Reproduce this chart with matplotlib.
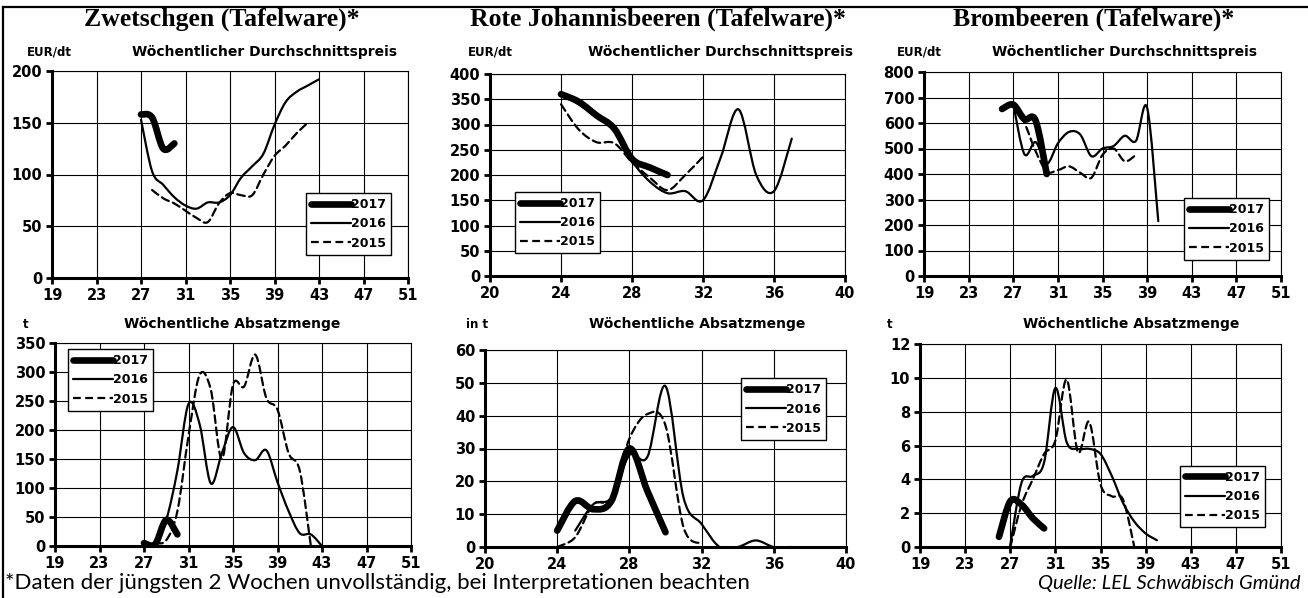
import matplotlib
matplotlib.use("Agg")
import matplotlib.pyplot as plt
from matplotlib.path import Path
from matplotlib.patches import PathPatch
from matplotlib.lines import Line2D

# ---- data (calendar weeks / values) ----
years = ["2017", "2016", "2015"]

# Zwetschgen price EUR/dt
zw_price_w17 = [27, 28, 29, 30]
zw_price_17 = [158, 155, 125, 130]
zw_price_w16 = list(range(27, 44))
zw_price_16 = [153, 103, 90, 78, 70, 67, 73, 73, 80, 97, 108, 120, 148, 170, 180, 186, 192]
zw_price_w15 = list(range(28, 43))
zw_price_15 = [85, 77, 72, 65, 58, 54, 72, 82, 80, 80, 100, 118, 128, 140, 150]

# Rote Johannisbeeren price EUR/dt
jo_price_w17 = list(range(24, 31))
jo_price_17 = [360, 345, 318, 292, 232, 215, 200]
jo_price_w16 = list(range(24, 38))
jo_price_16 = [360, 340, 315, 290, 228, 187, 164, 168, 150, 235, 330, 200, 168, 272]
jo_price_w15 = list(range(24, 33))
jo_price_15 = [340, 290, 265, 263, 225, 195, 170, 200, 236]

# Brombeeren price EUR/dt
br_price_w17 = [26, 27, 28, 29, 30]
br_price_17 = [655, 672, 615, 610, 400]
br_price_w16 = list(range(27, 41))
br_price_16 = [675, 478, 525, 440, 520, 565, 555, 470, 500, 510, 550, 530, 660, 215]
br_price_w15 = list(range(27, 39))
br_price_15 = [665, 600, 490, 410, 415, 430, 405, 385, 475, 500, 450, 475]

# Zwetschgen volume t
zw_vol_w17 = [27, 28, 29, 30]
zw_vol_17 = [5, 3, 45, 20]
zw_vol_w16 = list(range(27, 44))
zw_vol_16 = [2, 5, 45, 130, 245, 210, 108, 160, 205, 160, 148, 165, 110, 60, 22, 20, 0]
zw_vol_w15 = list(range(28, 43))
zw_vol_15 = [5, 10, 60, 190, 295, 270, 150, 278, 275, 330, 255, 235, 160, 130, 0]

# Rote Johannisbeeren volume t
jo_vol_w17 = list(range(24, 31))
jo_vol_17 = [5, 14, 11.5, 14, 30, 17, 4.5]
jo_vol_w16 = list(range(25, 38))
jo_vol_16 = [5, 13, 15, 28, 27.5, 49, 15, 7, 0, 0, 2, 0, 0]
jo_vol_w15 = list(range(24, 33))
jo_vol_15 = [0, 3, 13, 15, 33, 40.5, 37, 6, 1]

# Brombeeren volume t
br_vol_w17 = [26, 27, 28, 29, 30]
br_vol_17 = [0.6, 2.7, 2.5, 1.7, 1.1]
br_vol_w16 = list(range(27, 41))
br_vol_16 = [0.1, 3.8, 4.2, 5.0, 9.4, 6.2, 5.8, 5.8, 5.5, 4.2, 2.6, 1.5, 0.8, 0.4]
br_vol_w15 = list(range(27, 39))
br_vol_15 = [0, 2.5, 4.0, 5.5, 6.3, 9.9, 5.6, 7.4, 3.7, 3.0, 2.8, 0]

styles = {
    "2017": dict(lw=4.8, ls="-"),
    "2016": dict(lw=1.6, ls="-"),
    "2015": dict(lw=1.6, ls=(0, (3.5, 2))),
}


def smooth_path(xs, ys):
    # Bezier curve through the points (like Excel's smoothed line)
    verts = [(xs[0], ys[0])]
    codes = [Path.MOVETO]
    n = len(xs)
    for i in range(n - 1):
        x0, y0 = (xs[i - 1], ys[i - 1]) if i > 0 else (xs[i], ys[i])
        x1, y1 = xs[i], ys[i]
        x2, y2 = xs[i + 1], ys[i + 1]
        x3, y3 = (xs[i + 2], ys[i + 2]) if i + 2 < n else (x2, y2)
        c1 = (x1 + (x2 - x0) / 6, y1 + (y2 - y0) / 6)
        c2 = (x2 - (x3 - x1) / 6, y2 - (y3 - y1) / 6)
        verts += [c1, c2, (x2, y2)]
        codes += [Path.CURVE4] * 3
    return Path(verts, codes)


def draw_panel(rect, series, xlim, xstep, ymax, ystep, leg_anchor):
    ax = fig.add_axes(rect)
    for yr, (xs, ys) in zip(years, series):
        st = styles[yr]
        patch = PathPatch(smooth_path(xs, ys), fill=False, edgecolor="black",
                          lw=st["lw"], ls=st["ls"], capstyle="round", joinstyle="round")
        ax.add_patch(patch)
    ax.set_xlim(xlim)
    ax.set_ylim(0, ymax)
    ax.set_xticks(range(xlim[0], xlim[1] + 1, xstep))
    ax.set_yticks([v * ystep for v in range(int(round(ymax / ystep)) + 1)])
    ax.grid(True, color="black", lw=0.8)
    ax.set_axisbelow(True)
    for s in ["top", "right"]:
        ax.spines[s].set_linewidth(0.8)
    for s in ["left", "bottom"]:
        ax.spines[s].set_linewidth(2.2)
    ax.tick_params(direction="out", length=4, width=2, labelsize=10.5, pad=3)
    for lab in ax.get_xticklabels() + ax.get_yticklabels():
        lab.set_fontweight("bold")
    handles = [Line2D([], [], color="black", lw=styles[y]["lw"], ls=styles[y]["ls"],
                      solid_capstyle="round") for y in years]
    leg = ax.legend(handles, years, loc="upper left", bbox_to_anchor=leg_anchor,
                    frameon=True, fancybox=False, edgecolor="black", framealpha=1,
                    handlelength=3.2, handletextpad=0.0, borderpad=0.4,
                    labelspacing=0.5, borderaxespad=0,
                    prop=dict(weight="bold", size=9))
    leg.get_frame().set_linewidth(1.0)
    return ax


plt.rcParams["font.family"] = ["DejaVu Sans"]
W, H = 1308, 598
fig = plt.figure(figsize=(W / 100, H / 100), dpi=100)


def rect(l, r, t, b):
    return [l / W, 1 - b / H, (r - l) / W, (b - t) / H]


draw_panel(rect(52, 408, 71, 278),
           [(zw_price_w17, zw_price_17), (zw_price_w16, zw_price_16), (zw_price_w15, zw_price_15)],
           (19, 51), 4, 200, 50, (0.713, 0.41))
draw_panel(rect(490, 845, 74, 276),
           [(jo_price_w17, jo_price_17), (jo_price_w16, jo_price_16), (jo_price_w15, jo_price_15)],
           (20, 40), 4, 400, 50, (0.07, 0.416))
draw_panel(rect(924, 1281, 72, 276),
           [(br_price_w17, br_price_17), (br_price_w16, br_price_16), (br_price_w15, br_price_15)],
           (19, 51), 4, 800, 100, (0.728, 0.382))
draw_panel(rect(55, 411, 343, 546),
           [(zw_vol_w17, zw_vol_17), (zw_vol_w16, zw_vol_16), (zw_vol_w15, zw_vol_15)],
           (19, 51), 4, 350, 50, (0.037, 0.97))
draw_panel(rect(485, 846, 350, 547),
           [(jo_vol_w17, jo_vol_17), (jo_vol_w16, jo_vol_16), (jo_vol_w15, jo_vol_15)],
           (20, 40), 4, 60, 10, (0.71, 0.856))
draw_panel(rect(920, 1281, 344, 547),
           [(br_vol_w17, br_vol_17), (br_vol_w16, br_vol_16), (br_vol_w15, br_vol_15)],
           (19, 51), 4, 12, 2, (0.72, 0.40))

# titles and labels
title_font = dict(family="Liberation Serif", weight="bold", size=18.5, ha="center", va="center")
fig.text(222 / W, 1 - 19 / H, "Zwetschgen (Tafelware)*", **title_font)
fig.text(658 / W, 1 - 19 / H, "Rote Johannisbeeren (Tafelware)*", **title_font)
fig.text(1094 / W, 1 - 19 / H, "Brombeeren (Tafelware)*", **title_font)

lab = dict(weight="bold", size=8.5, ha="center", va="center")
sub = dict(weight="bold", size=10, ha="center", va="center")
fig.text(49 / W, 1 - 52 / H, "EUR/dt", **lab)
fig.text(264 / W, 1 - 52 / H, "Wöchentlicher Durchschnittspreis", **sub)
fig.text(490 / W, 1 - 52 / H, "EUR/dt", **lab)
fig.text(720 / W, 1 - 52 / H, "Wöchentlicher Durchschnittspreis", **sub)
fig.text(919 / W, 1 - 52 / H, "EUR/dt", **lab)
fig.text(1124 / W, 1 - 52 / H, "Wöchentlicher Durchschnittspreis", **sub)
fig.text(26 / W, 1 - 324 / H, "t", **lab)
fig.text(232 / W, 1 - 324 / H, "Wöchentliche Absatzmenge", **sub)
fig.text(477 / W, 1 - 324 / H, "in t", **lab)
fig.text(697 / W, 1 - 324 / H, "Wöchentliche Absatzmenge", **sub)
fig.text(890 / W, 1 - 324 / H, "t", **lab)
fig.text(1131 / W, 1 - 324 / H, "Wöchentliche Absatzmenge", **sub)

# footer
fig.text(5 / W, 1 - 583 / H, "*Daten der jüngsten 2 Wochen unvollständig, bei Interpretationen beachten",
         family="Lato", size=16, ha="left", va="center")
fig.text(1300 / W, 1 - 583 / H, "Quelle: LEL Schwäbisch Gmünd",
         family="Lato", style="italic", size=14.5, ha="right", va="center")

# outer frame (top and left)
fig.add_artist(Line2D([3 / W, 1], [1 - 7 / H, 1 - 7 / H], color="black", lw=1.6,
                      transform=fig.transFigure))
fig.add_artist(Line2D([3 / W, 3 / W], [0, 1 - 7 / H], color="black", lw=1.6,
                      transform=fig.transFigure))

fig.savefig("out.png", dpi=100)
